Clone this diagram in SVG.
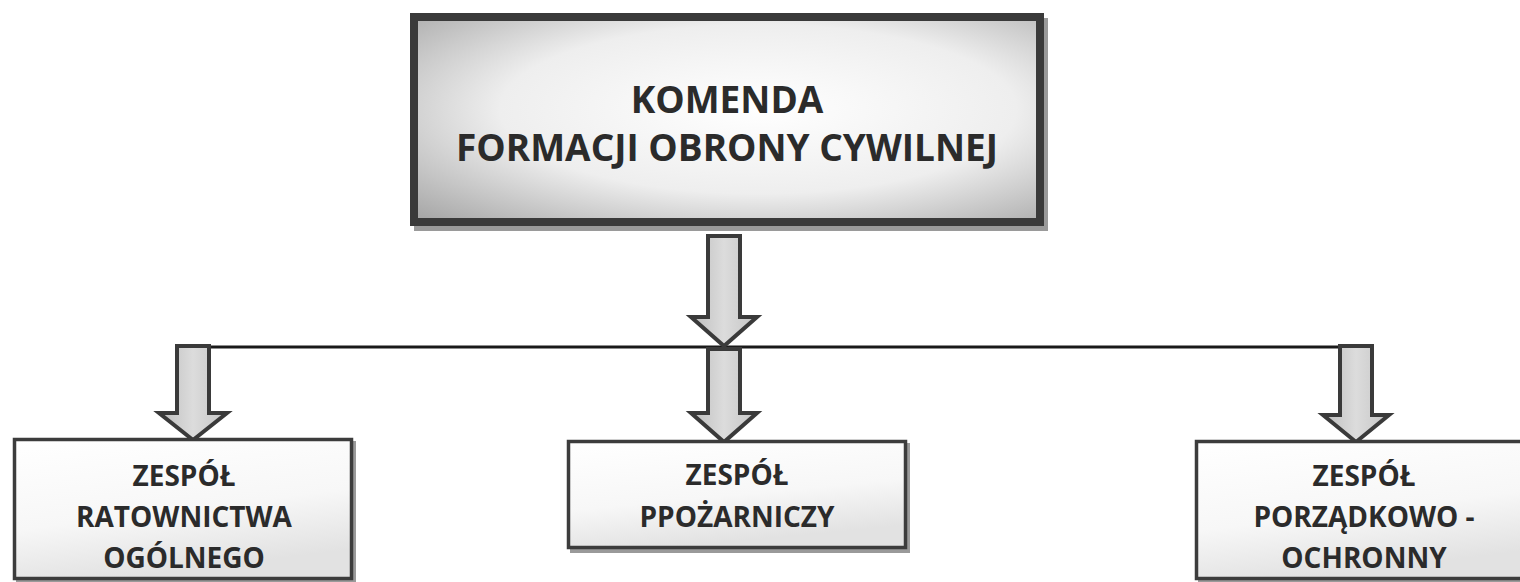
<svg xmlns="http://www.w3.org/2000/svg" width="1520" height="582" viewBox="0 0 1520 582">
  <defs>
    <radialGradient id="topFill" cx="0.55" cy="0.45" r="0.75">
      <stop offset="0" stop-color="#ffffff"/>
      <stop offset="0.55" stop-color="#eeeeee"/>
      <stop offset="1" stop-color="#a8a8a8"/>
    </radialGradient>
    <linearGradient id="boxFill" x1="0" y1="0" x2="0.3" y2="1">
      <stop offset="0" stop-color="#ffffff"/>
      <stop offset="0.6" stop-color="#f7f7f7"/>
      <stop offset="1" stop-color="#e2e2e2"/>
    </linearGradient>
    <linearGradient id="arrowFill" x1="0" y1="0" x2="1" y2="0">
      <stop offset="0" stop-color="#bdbdbd"/>
      <stop offset="0.5" stop-color="#dcdcdc"/>
      <stop offset="1" stop-color="#c4c4c4"/>
    </linearGradient>
  </defs>
  <style>
    .txt { font-family: "Open Sans", "Liberation Sans", sans-serif; font-weight: bold; fill: #2b2b2b; text-anchor: middle; }
    .big { font-size: 37px; }
    .small { font-size: 28px; }
    .shadow { fill: #9a9a9a; }
    .box { fill: url(#boxFill); stroke: #3c3c3c; stroke-width: 3.5; }
    .arrow { fill: url(#arrowFill); stroke: #3a3a3a; stroke-width: 4; stroke-linejoin: miter; }
    .line { stroke: #1a1a1a; stroke-width: 3; fill: none; }
  </style>
  <rect width="1520" height="582" fill="#ffffff"/>

  <g id="connectors">
    <line class="line" x1="193" y1="347" x2="1356" y2="347"/>
    <polygon class="arrow" points="708,236 740,236 740,317 757,317 724,346 691,317 708,317"/>
    <polygon class="arrow" points="708,349 740,349 740,413 757,413 724,442 691,413 708,413"/>
    <polygon class="arrow" points="177,346 209,346 209,413 227,413 193,440 159,413 177,413"/>
    <polygon class="arrow" points="1340,346 1372,346 1372,415 1389,415 1356,442 1323,415 1340,415"/>
  </g>

  <g id="komenda">
    <rect class="shadow" x="414" y="18" width="634" height="213"/>
    <rect x="414" y="17" width="626" height="205" fill="url(#topFill)" stroke="#3a3a3a" stroke-width="8"/>
    <text class="txt big" x="727" y="113">KOMENDA</text>
    <text class="txt big" x="727" y="161">FORMACJI OBRONY CYWILNEJ</text>
  </g>

  <g id="zespol-ratownictwa">
    <rect class="shadow" x="16" y="441" width="340" height="141"/>
    <rect class="box" x="14.5" y="439.5" width="337" height="139"/>
    <text class="txt small" x="184" y="486">ZESPÓŁ</text>
    <text class="txt small" x="184" y="527">RATOWNICTWA</text>
    <text class="txt small" x="184" y="568">OGÓLNEGO</text>
  </g>

  <g id="zespol-pozarniczy">
    <rect class="shadow" x="570" y="443" width="340" height="110"/>
    <rect class="box" x="568.5" y="441.5" width="337" height="106"/>
    <text class="txt small" x="737" y="485">ZESPÓŁ</text>
    <text class="txt small" x="737" y="527">PPOŻARNICZY</text>
  </g>

  <g id="zespol-porzadkowy">
    <rect class="shadow" x="1198" y="443" width="340" height="141"/>
    <rect class="box" x="1196.5" y="441.5" width="337" height="137"/>
    <text class="txt small" x="1364" y="486">ZESPÓŁ</text>
    <text class="txt small" x="1364" y="527">PORZĄDKOWO -</text>
    <text class="txt small" x="1364" y="568">OCHRONNY</text>
  </g>
</svg>
